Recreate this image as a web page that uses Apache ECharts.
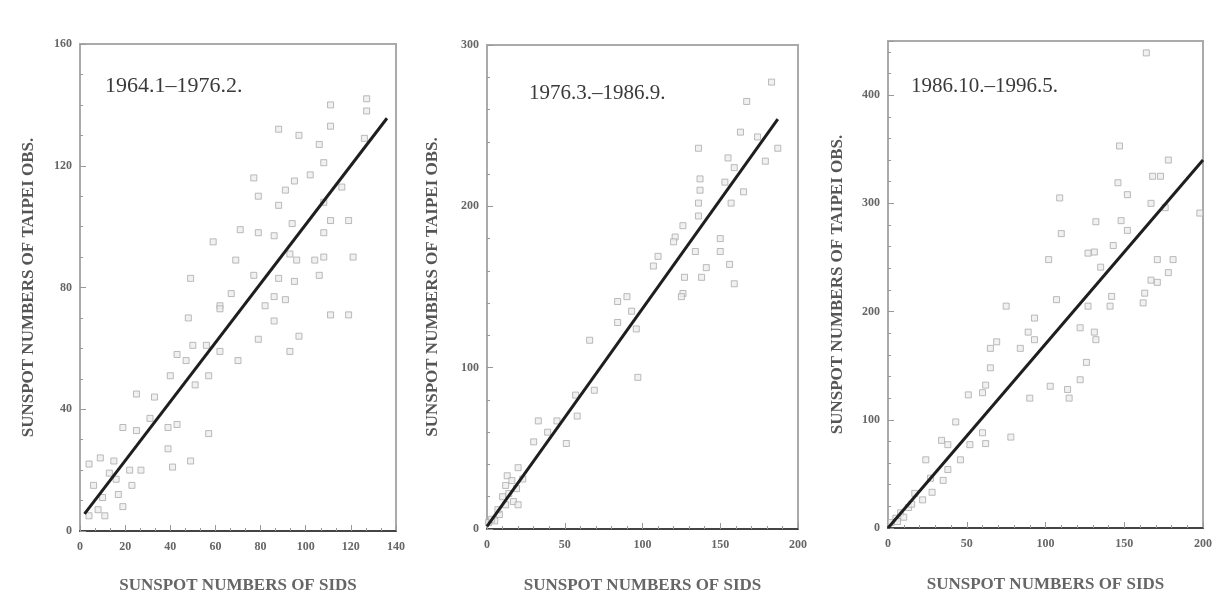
<!DOCTYPE html>
<html lang="en">
<head>
    <meta charset="UTF-8">
    <title>Sunspot numbers: Taipei vs SIDS</title>
    <script type="text/javascript" src="https://cdn.jsdelivr.net/npm/echarts@6/dist/echarts.min.js"></script>
    <style>
        body{
            padding: 0px;
            margin: 0px;
            background-color: #ffffff;
        }
        #chart{
            width:1220px;
            height:599px;
        }
    </style>
</head>
<body>
    <div id="chart"></div>
    <script>
        // periods shown in the three panels
        var periods = ['1964.1–1976.2.', '1976.3.–1986.9.', '1986.10.–1996.5.'];

        // [SIDS, Taipei] monthly pairs
        var points1 = [[127,142],[127,138],[111,140],[111,133],[88,132],[97,130],[106,127],[108,121],[102,117],[95,115],
            [91,112],[77,116],[79,110],[88,107],[108,108],[111,102],[116,113],[126,129],[94,101],[119,102],
            [108,98],[71,99],[79,98],[86,97],[59,95],[69,89],[121,90],[108,90],[104,89],[96,89],
            [93,91],[106,84],[95,82],[88,83],[77,84],[49,83],[67,78],[86,77],[91,76],[62,74],
            [62,73],[48,70],[82,74],[86,69],[111,71],[119,71],[79,63],[97,64],[93,59],[70,56],
            [62,59],[50,61],[56,61],[43,58],[47,56],[40,51],[57,51],[51,48],[25,45],[33,44],
            [43,35],[39,34],[57,32],[19,34],[25,33],[31,37],[39,27],[49,23],[41,21],[27,20],
            [9,24],[4,22],[15,23],[13,19],[23,15],[17,12],[19,8],[10,11],[8,7],[4,5],
            [11,5],[6,15],[22,20],[16,17]];
        var points2 = [[183,277],[167,265],[163,246],[136,236],[187,236],[179,228],[174,243],[155,230],[159,224],[137,217],
            [137,210],[165,209],[153,215],[157,202],[136,202],[136,194],[126,188],[121,181],[120,178],[150,180],
            [150,172],[134,172],[110,169],[107,163],[141,162],[156,164],[127,156],[138,156],[159,152],[126,146],
            [90,144],[84,141],[125,144],[93,135],[84,128],[96,124],[66,117],[97,94],[69,86],[57,83],
            [58,70],[45,67],[33,67],[30,54],[51,53],[39,60],[20,38],[13,33],[12,27],[19,25],
            [17,17],[20,15],[12,15],[8,9],[5,5],[1,4],[16,30],[23,31],[10,20],[14,22],
            [7,12],[3,6]];
        var points3 = [[164,439],[147,353],[178,340],[173,325],[168,325],[146,319],[152,308],[109,305],[167,300],[176,296],
            [198,291],[132,283],[148,284],[152,275],[110,272],[131,255],[127,254],[143,261],[102,248],[135,241],
            [171,248],[181,248],[178,236],[167,229],[171,227],[163,217],[162,208],[142,214],[141,205],[107,211],
            [75,205],[127,205],[93,194],[89,181],[93,174],[122,185],[131,181],[132,174],[69,172],[65,166],
            [84,166],[126,153],[65,148],[122,137],[103,131],[114,128],[115,120],[90,120],[62,132],[60,125],
            [51,123],[78,84],[43,98],[60,88],[62,78],[52,77],[34,81],[38,77],[46,63],[24,63],
            [38,54],[35,44],[27,46],[28,33],[22,26],[17,32],[13,19],[8,14],[5,9],[2,5],
            [10,10],[6,6],[15,22]];

        // end points of the fitted straight lines
        var fit1 = [[2,5.6],[136,135.6]];
        var fit2 = [[0,1.7],[187,254]];
        var fit3 = [[0,0],[200,340]];

        // axis ranges: [xMax, xStep, yMax, yStep]
        var ranges = [[140,20,160,40],[200,50,300,100],[200,50,450,100]];

        var grids = [
            {left:80, top:44, width:316, height:489},
            {left:487, top:45, width:311, height:486},
            {left:888, top:41, width:315, height:487}
        ];
        var titlePos = [[100,70],[524,78],[906,71]];
        var titleSize = [22, 21, 21];
        var minorX = [3,5,5];
        var minorY = [4,5,5];
        var xNameGap = [46,48,48];
        var yNameGap = [43,46,42];

        var serif = '"Liberation Serif", "DejaVu Serif", serif';
        var chart = echarts.init(document.getElementById('chart'));

        var option = {
            backgroundColor: '#ffffff',
            animation: false,
            title: [],
            grid: [],
            xAxis: [],
            yAxis: [],
            series: []
        };

        var allPoints = [points1, points2, points3];
        var fits = [fit1, fit2, fit3];

        for (var i = 0; i < 3; i++) {
            var r = ranges[i];
            option.grid.push({
                left: grids[i].left, top: grids[i].top,
                width: grids[i].width, height: grids[i].height,
                show: true, borderColor: '#aaaaaa', borderWidth: 2
            });
            option.title.push({
                text: periods[i],
                left: titlePos[i][0], top: titlePos[i][1],
                textStyle: {fontFamily: serif, fontSize: titleSize[i], fontWeight: 'normal', color: '#3a3a3a'}
            });
            option.xAxis.push({
                type: 'value', gridIndex: i, min: 0, max: r[0], interval: r[1],
                name: 'SUNSPOT NUMBERS OF SIDS',
                nameLocation: 'middle', nameGap: xNameGap[i],
                nameTextStyle: {fontFamily: serif, fontSize: 17, fontWeight: 'bold', color: '#666'},
                axisLine: {lineStyle: {color: '#444', width: 2}},
                axisTick: {inside: true, length: 6, lineStyle: {color: '#999'}},
                minorTick: {show: true, splitNumber: minorX[i], length: 3, lineStyle: {color: '#999'}},
                axisLabel: {fontFamily: serif, fontSize: 12, fontWeight: 'bold', color: '#666', margin: 10},
                splitLine: {show: false}
            });
            option.yAxis.push({
                type: 'value', gridIndex: i, min: 0, max: r[2], interval: r[3],
                name: 'SUNSPOT NUMBERS OF TAIPEI OBS.',
                nameLocation: 'middle', nameGap: yNameGap[i],
                nameTextStyle: {fontFamily: serif, fontSize: 17, fontWeight: 'bold', color: '#555'},
                axisLine: {lineStyle: {color: '#aaaaaa', width: 2}},
                axisTick: {inside: true, length: 6, lineStyle: {color: '#999'}},
                minorTick: {show: true, splitNumber: minorY[i], length: 3, lineStyle: {color: '#999'}},
                axisLabel: {
                    fontFamily: serif, fontSize: 12, fontWeight: 'bold', color: '#666', margin: 8,
                    formatter: (function (step) {
                        return function (v) { return v % step === 0 ? v : ''; };
                    })(r[3])
                },
                splitLine: {show: false}
            });
            option.series.push({
                type: 'scatter', xAxisIndex: i, yAxisIndex: i,
                data: allPoints[i],
                symbol: 'rect', symbolSize: 6,
                itemStyle: {color: '#eeeeee', borderColor: '#aaaaaa', borderWidth: 1}
            });
            option.series.push({
                type: 'line', xAxisIndex: i, yAxisIndex: i,
                data: fits[i], showSymbol: false, symbol: 'none',
                lineStyle: {color: '#1e1e1e', width: 3}
            });
        }

        chart.setOption(option);
    </script>
</body>
</html>
